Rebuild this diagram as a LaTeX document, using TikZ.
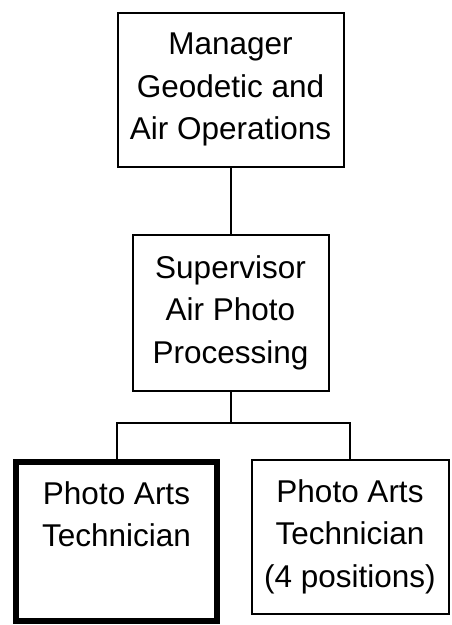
\documentclass[tikz,border=0pt]{standalone}
\usepackage{fontspec}
\setmainfont{Liberation Sans}
\usepackage{tikz}
\usetikzlibrary{positioning,calc}
\tikzset{
  post/.style  ={draw=black,fill=white,line width=2pt,align=center,inner sep=0pt,
                 font=\fontsize{31.5}{42.5}\selectfont},
  held/.style  ={post,line width=6pt},
  link/.style  ={draw=black,line width=2pt},
}

\begin{document}
\begin{tikzpicture}[x=1pt, y=-1pt]
\useasboundingbox (0,0) rectangle (451,625);

\node[post,minimum width=226pt,minimum height=154pt] (mgr) at (230.5,89.5)
  {Manager\\Geodetic and\\Air Operations};
\node[post,minimum width=196pt,minimum height=156pt] (sup) at (230.5,312.5)
  {Supervisor\\Air Photo\\Processing};

% --- two technician posts under the supervisor -----------------------------
\node[held,minimum width=201pt,minimum height=159pt] (tech) at (116.5,541.5)
  {Photo Arts\\Technician\\\strut};
\node[post,minimum width=197pt,minimum height=154pt] (techs) at (350,536.5)
  {Photo Arts\\Technician\\(4 positions)};

\draw[link] (mgr.south) -- (sup.north);
\coordinate (jn) at (sup.south |- 0,423);
\draw[link] (sup.south) -- (jn);
\draw[link] (tech.north) |- (jn) -| (techs.north);

\end{tikzpicture}
\end{document}
